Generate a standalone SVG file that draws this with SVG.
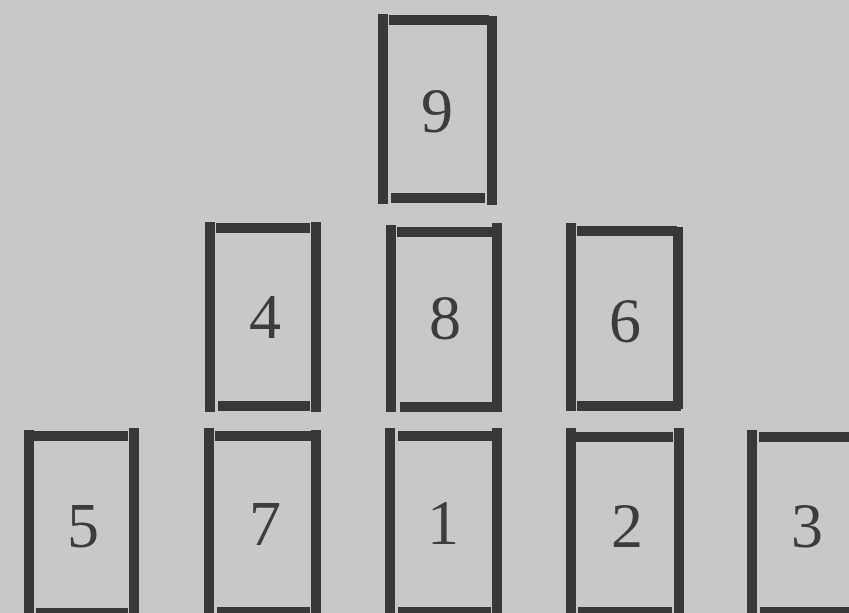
<svg xmlns="http://www.w3.org/2000/svg" width="849" height="613" viewBox="0 0 849 613">
<style>
.bar{fill:#383838}
.num{font-family:"Liberation Serif","Times New Roman",serif;font-size:64px;fill:#3c3c3c;text-anchor:middle}
</style>
<rect x="0" y="0" width="849" height="613" fill="#c8c8c8"/>
<g id="card9">
<rect class="bar" x="378" y="14" width="10" height="190"/>
<rect class="bar" x="487" y="16" width="10" height="189"/>
<rect class="bar" x="389" y="15" width="100" height="10"/>
<rect class="bar" x="391" y="193" width="94" height="10"/>
<text class="num" x="437" y="132">9</text>
</g>
<g id="card4">
<rect class="bar" x="205" y="222" width="10" height="190"/>
<rect class="bar" x="311" y="222" width="10" height="190"/>
<rect class="bar" x="216" y="223" width="94" height="10"/>
<rect class="bar" x="218" y="401" width="92" height="10"/>
<text class="num" x="265" y="338">4</text>
</g>
<g id="card8">
<rect class="bar" x="386" y="225" width="10" height="187"/>
<rect class="bar" x="492" y="223" width="10" height="189"/>
<rect class="bar" x="397" y="227" width="96" height="10"/>
<rect class="bar" x="400" y="402" width="96" height="10"/>
<text class="num" x="445" y="339">8</text>
</g>
<g id="card6">
<rect class="bar" x="566" y="223" width="10" height="188"/>
<rect class="bar" x="673" y="227" width="10" height="182"/>
<rect class="bar" x="577" y="226" width="100" height="10"/>
<rect class="bar" x="577" y="401" width="104" height="10"/>
<text class="num" x="625" y="342">6</text>
</g>
<g id="card5">
<rect class="bar" x="24" y="430" width="10" height="183"/>
<rect class="bar" x="129" y="428" width="10" height="185"/>
<rect class="bar" x="34" y="431" width="94" height="10"/>
<rect class="bar" x="36" y="608" width="92" height="10"/>
<text class="num" x="83" y="547">5</text>
</g>
<g id="card7">
<rect class="bar" x="204" y="428" width="10" height="185"/>
<rect class="bar" x="311" y="430" width="10" height="183"/>
<rect class="bar" x="215" y="431" width="97" height="10"/>
<rect class="bar" x="217" y="607" width="93" height="10"/>
<text class="num" x="265" y="545">7</text>
</g>
<g id="card1">
<rect class="bar" x="385" y="428" width="10" height="185"/>
<rect class="bar" x="492" y="428" width="10" height="185"/>
<rect class="bar" x="398" y="431" width="95" height="10"/>
<rect class="bar" x="398" y="607" width="93" height="10"/>
<text class="num" x="443" y="544">1</text>
</g>
<g id="card2">
<rect class="bar" x="566" y="428" width="10" height="185"/>
<rect class="bar" x="674" y="428" width="10" height="185"/>
<rect class="bar" x="576" y="432" width="97" height="10"/>
<rect class="bar" x="578" y="607" width="94" height="10"/>
<text class="num" x="627" y="547">2</text>
</g>
<g id="card3">
<rect class="bar" x="747" y="430" width="10" height="183"/>
<rect class="bar" x="759" y="432" width="95" height="10"/>
<rect class="bar" x="760" y="607" width="95" height="10"/>
<text class="num" x="807" y="547">3</text>
</g>
<g id="connectors"/>
</svg>
